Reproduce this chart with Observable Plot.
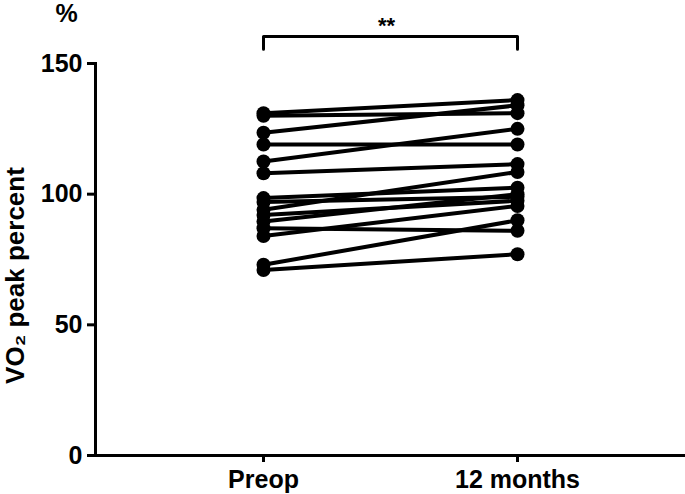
<!DOCTYPE html>
<html>
<head>
<meta charset="utf-8">
<script src="https://cdn.jsdelivr.net/npm/d3@7"></script>
<script src="https://cdn.jsdelivr.net/npm/@observablehq/plot@0.6"></script>
<style>
  html, body { margin: 0; padding: 0; background: #fff; }
</style>
</head>
<body>
<div id="chart"></div>
<script>
// Time points (categories)
const timepoints = ["Preop", "12 months"];
// VO2 peak percent per subject
const preop = [131, 130, 123.5, 119, 112.5, 108, 98.5, 97, 94, 92, 89.5, 87, 84, 73, 71];
const months12 = [136, 131, 134, 119, 125, 111.5, 102.5, 99, 108.5, 97.5, 100, 86, 95.5, 90, 77];
// Y-axis ticks
const yTicks = [0, 50, 100, 150];
// Significance bracket levels (in y units) and label
const bracketLevels = [155.5, 160.3];
const sigLabel = "**";

const data = preop.flatMap((v, i) => [
  {id: i, t: timepoints[0], v},
  {id: i, t: timepoints[1], v: months12[i]}
]);
const bracket = [
  {t: timepoints[0], v: bracketLevels[0]},
  {t: timepoints[0], v: bracketLevels[1]},
  {t: timepoints[1], v: bracketLevels[1]},
  {t: timepoints[1], v: bracketLevels[0]}
];

const font = "'Liberation Sans', Arial, Helvetica, sans-serif";

const chart = Plot.plot({
  width: 685,
  height: 494,
  marginLeft: 95,
  marginRight: 0,
  marginTop: 63,
  marginBottom: 39,
  style: {fontFamily: font, fontWeight: "bold", color: "black", background: "white", overflow: "visible"},
  x: {type: "point", domain: timepoints, padding: 0.66, label: null},
  y: {domain: [0, 150], label: null},
  marks: [
    Plot.frame({anchor: "left", stroke: "black", strokeWidth: 3}),
    Plot.ruleY([0], {stroke: "black", strokeWidth: 3}),
    Plot.axisY({ticks: yTicks, tickSize: 8, tickPadding: 5, fontSize: 25, strokeWidth: 3, label: null, tickFormat: d => d}),
    Plot.axisX({tickSize: 7, tickPadding: 8, fontSize: 25, strokeWidth: 3, label: null}),
    Plot.line(data, {x: "t", y: "v", z: "id", stroke: "black", strokeWidth: 4}),
    Plot.dot(data, {x: "t", y: "v", r: 7, fill: "black", stroke: null}),
    Plot.line(bracket, {x: "t", y: "v", stroke: "black", strokeWidth: 3, clip: false}),
    Plot.text([sigLabel], {text: d => d, frameAnchor: "top", dx: -4, dy: -46, fontSize: 22, fontWeight: "bold", fill: "black"}),
    Plot.text(["%"], {text: d => d, frameAnchor: "top-left", textAnchor: "start", lineAnchor: "top", dx: -40, dy: -59, fontSize: 25, fontWeight: "bold", fill: "black"}),
    Plot.text(["VO₂ peak percent"], {text: d => d, frameAnchor: "left", textAnchor: "middle", rotate: -90, dx: -80, dy: 16, fontSize: 26, fontWeight: "bold", fill: "black"})
  ]
});
document.getElementById("chart").appendChild(chart);
</script>
</body>
</html>
